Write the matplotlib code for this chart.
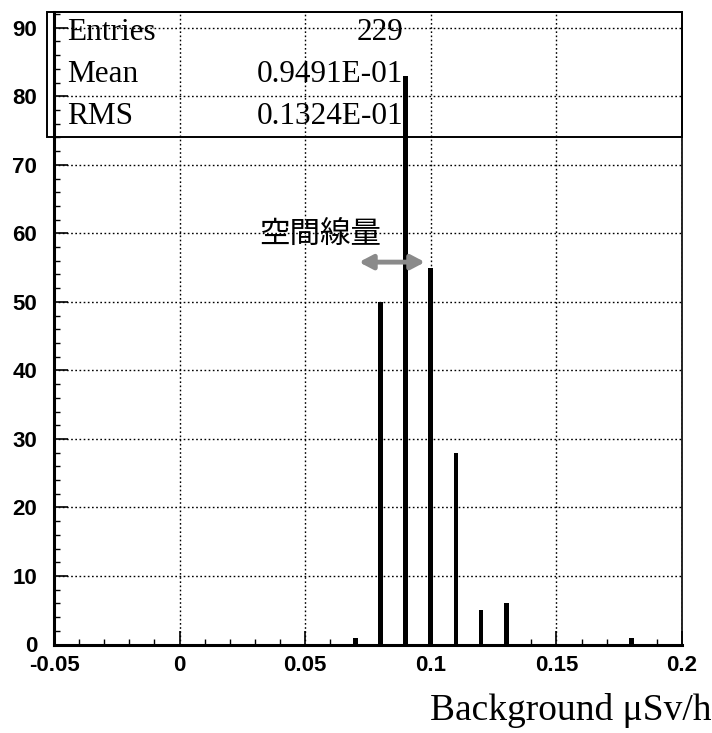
import matplotlib
matplotlib.use("Agg")
import matplotlib.pyplot as plt
from matplotlib.patches import Rectangle
from matplotlib.ticker import MultipleLocator

# ---- data ----
bin_centers = [0.07, 0.08, 0.09, 0.10, 0.11, 0.12, 0.13, 0.18]
counts = [1, 50, 83, 55, 28, 5, 6, 1]
x_ticks = [-0.05, 0, 0.05, 0.1, 0.15, 0.2]
x_tick_labels = ["-0.05", "0", "0.05", "0.1", "0.15", "0.2"]
y_ticks = [0, 10, 20, 30, 40, 50, 60, 70, 80, 90]
stat_names = ["Entries", "Mean", "RMS"]
stat_values = ["229", "0.9491E-01", "0.1324E-01"]
annotation_text = "空間線量"
x_label = "Background \u03bcSv/h"

W, H = 712, 733
L, R, B, T = 54, 682, 644.5, 12
fig = plt.figure(figsize=(W/100, H/100), dpi=100)
ax = fig.add_axes([L/W, 1 - B/H, (R-L)/W, (B-T)/H])

ax.bar(bin_centers, counts, width=0.0019, color="black", zorder=3)

ax.set_xlim(-0.05, 0.2)
ax.set_ylim(0, 92.3)
ax.set_xticks(x_ticks)
ax.set_xticklabels(x_tick_labels)
ax.set_yticks(y_ticks)
ax.xaxis.set_minor_locator(MultipleLocator(0.01))
ax.yaxis.set_minor_locator(MultipleLocator(2))
ax.tick_params(which="major", direction="in", length=10, width=1.2, color="black")
ax.tick_params(which="minor", direction="in", length=4.5, width=1.0, color="black")
ax.tick_params(axis="x", which="major", labelsize=16, pad=7.5)
ax.tick_params(axis="y", which="major", labelsize=16, pad=12)
for lab in ax.get_xticklabels() + ax.get_yticklabels():
    lab.set_fontfamily("Liberation Sans")
    lab.set_fontweight("bold")

ax.grid(True, which="major", linestyle=(0, (1.2, 1.8)), color="black", linewidth=1.0, zorder=0)

for s in ["left", "bottom"]:
    ax.spines[s].set_linewidth(2.2)
for s in ["top", "right"]:
    ax.spines[s].set_linewidth(1.2)

# stats box
box = Rectangle((47/W, 1 - 137/H), (R-47)/W, (137-12)/H,
                transform=fig.transFigure, facecolor="none", edgecolor="black",
                linewidth=1.4, zorder=5)
fig.patches.append(box)
row_y = [33, 75, 117]
for name, val, yy in zip(stat_names, stat_values, row_y):
    fig.text(67/W, 1 - yy/H, name, family="Liberation Serif", fontsize=22.5,
             ha="left", va="center")
    fig.text(403/W, 1 - yy/H, val, family="Liberation Serif", fontsize=22.5,
             ha="right", va="center")

# annotation
ax.text(0.0561, 59.9, annotation_text, family=["Noto Sans CJK JP", "DejaVu Sans"],
        fontsize=22, ha="center", va="center", zorder=6)
ax.annotate("", xy=(0.0714, 55.8), xytext=(0.0977, 55.8),
            arrowprops=dict(arrowstyle="<|-|>,head_length=0.8,head_width=0.42",
                            color="#8a8a8a", lw=3.5, shrinkA=0, shrinkB=0), zorder=6)

fig.text(1.0, 1 - 711/H, x_label, family="Liberation Serif", fontsize=27,
         ha="right", va="center")

fig.savefig("out.png", dpi=100)
